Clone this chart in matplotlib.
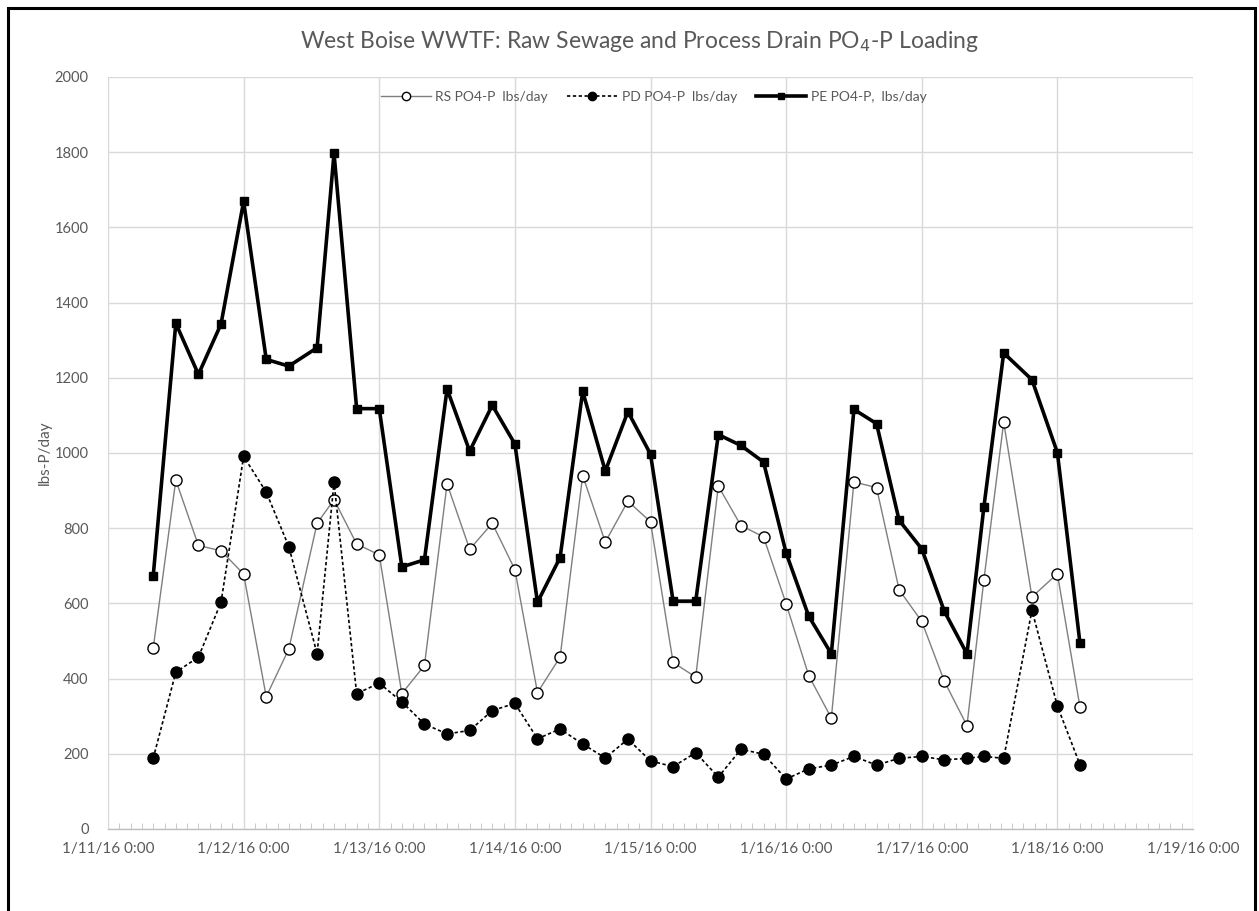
import matplotlib
matplotlib.use("Agg")
import matplotlib.pyplot as plt
import matplotlib.dates as mdates
from matplotlib.patches import Rectangle
from datetime import datetime

times = [
    "2016-01-11 08:00", "2016-01-11 12:00", "2016-01-11 16:00", "2016-01-11 20:00",
    "2016-01-12 00:00", "2016-01-12 04:00", "2016-01-12 08:00", "2016-01-12 13:00",
    "2016-01-12 16:00", "2016-01-12 20:00",
    "2016-01-13 00:00", "2016-01-13 04:00", "2016-01-13 08:00", "2016-01-13 12:00",
    "2016-01-13 16:00", "2016-01-13 20:00",
    "2016-01-14 00:00", "2016-01-14 04:00", "2016-01-14 08:00", "2016-01-14 12:00",
    "2016-01-14 16:00", "2016-01-14 20:00",
    "2016-01-15 00:00", "2016-01-15 04:00", "2016-01-15 08:00", "2016-01-15 12:00",
    "2016-01-15 16:00", "2016-01-15 20:00",
    "2016-01-16 00:00", "2016-01-16 04:00", "2016-01-16 08:00", "2016-01-16 12:00",
    "2016-01-16 16:00", "2016-01-16 20:00",
    "2016-01-17 00:00", "2016-01-17 04:00", "2016-01-17 08:00", "2016-01-17 11:00",
    "2016-01-17 14:30", "2016-01-17 19:30",
    "2016-01-18 00:00", "2016-01-18 04:00",
]

rs_po4 = [481, 928, 754, 740, 678, 352, 479, 813, 876, 758,
          729, 360, 435, 918, 744, 813,
          690, 363, 457, 940, 763, 872,
          817, 443, 404, 912, 807, 777,
          599, 408, 295, 923, 908, 636,
          552, 393, 275, 663, 1082, 617,
          679, 324]

pd_po4 = [188, 417, 457, 603, 991, 896, 751, 466, 922, 360,
          388, 338, 279, 253, 262, 315,
          334, 240, 266, 226, 189, 239,
          181, 166, 203, 138, 212, 199,
          133, 160, 170, 193, 170, 188,
          193, 184, 188, 193, 188, 582,
          327, 171]

pe_po4 = [673, 1345, 1209, 1343, 1669, 1249, 1231, 1280, 1797, 1118,
          1118, 697, 716, 1170, 1005, 1127,
          1024, 603, 722, 1164, 952, 1110,
          997, 606, 606, 1049, 1020, 976,
          734, 566, 466, 1116, 1078, 821,
          745, 579, 466, 857, 1266, 1195,
          1001, 494]

series_labels = ["RS PO4-P  lbs/day", "PD PO4-P  lbs/day", "PE PO4-P,  lbs/day"]
title = "West Boise WWTF: Raw Sewage and Process Drain PO$_4$-P Loading"
y_label = "lbs-P/day"

x = [datetime.strptime(t, "%Y-%m-%d %H:%M") for t in times]

plt.rcParams['font.family'] = ['Lato', 'DejaVu Sans']
txt = '#595959'

fig = plt.figure(figsize=(12.59, 9.11), dpi=100)
ax = fig.add_axes([108/1259, 1 - 829/911, (1193-108)/1259, (829-77)/911])

ax.plot(x, rs_po4, color='#7f7f7f', lw=1.0, marker='o', ms=8,
        mfc='white', mec='black', mew=1.0, label=series_labels[0], zorder=3)
ax.plot(x, pd_po4, color='black', lw=1.2, ls=(0, (2, 1.5)), marker='o', ms=8,
        mfc='black', mec='black', label=series_labels[1], zorder=3)
ax.plot(x, pe_po4, color='black', lw=2.6, marker='s', ms=6,
        mfc='black', mec='black', label=series_labels[2], zorder=4)

ax.set_xlim(datetime(2016, 1, 11), datetime(2016, 1, 19))
ax.set_ylim(0, 2000)
ax.set_yticks(range(0, 2001, 200))
ax.xaxis.set_major_locator(mdates.DayLocator())
ax.xaxis.set_major_formatter(mdates.DateFormatter('%-m/%-d/%y %-H:%M'))
ax.xaxis.set_minor_locator(mdates.HourLocator(byhour=range(0, 24, 2)))

ax.grid(True, which='major', color='#d9d9d9', lw=1.0)
ax.set_axisbelow(True)
for s in ['top', 'right', 'left']:
    ax.spines[s].set_visible(False)
ax.spines['bottom'].set_color('#bfbfbf')
ax.spines['bottom'].set_linewidth(1.0)

ax.tick_params(axis='y', length=0, pad=14, labelsize=10.5, labelcolor=txt)
ax.tick_params(axis='x', which='major', length=0, pad=9, labelsize=11, labelcolor=txt)
ax.tick_params(axis='x', which='minor', direction='in', length=4, color='#bfbfbf')

ax.set_ylabel(y_label, color=txt, fontsize=11)
ax.yaxis.set_label_coords(-0.052, 0.5)

leg = ax.legend(loc='upper center', bbox_to_anchor=(0.503, 1.0), ncol=3, frameon=False,
                fontsize=10, labelcolor=txt, handlelength=3.6, columnspacing=1.4,
                handletextpad=0.3, borderaxespad=0.6, markerscale=0.75)

fig.text(0.508, 1 - 42/911, title, ha='center', va='center', fontsize=16.5, color=txt)

border = Rectangle((8/1259, -0.1), (1255-8)/1259, 1.1 - 8/911, transform=fig.transFigure,
                   fill=False, ec='black', lw=2.2, clip_on=False)
fig.patches.append(border)

fig.savefig('out.png', dpi=100)
